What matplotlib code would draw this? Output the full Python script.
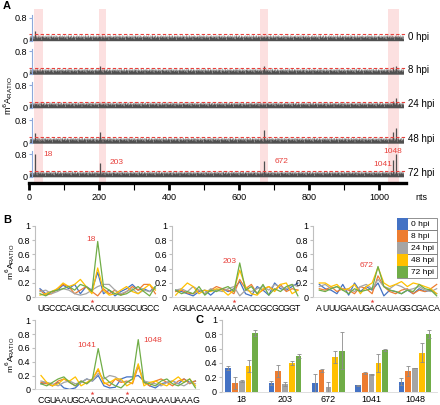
import numpy as np
import matplotlib.pyplot as plt
from matplotlib.patches import Rectangle

plt.rcParams['font.family'] = ['Liberation Sans', 'DejaVu Sans']

# -----------------------------
# data
# -----------------------------
hpi_labels = ['0 hpi', '8 hpi', '24 hpi', '48 hpi', '72 hpi']
colors = ['#4472C4', '#ED7D31', '#A5A5A5', '#FFC000', '#70AD47']

sites = [18, 203, 672, 1041, 1048]
site_labels = ['18', '203', '672', '1041', '1048']

# panel C: m6A ratio at each site (mean, sd)
c_0hpi = [0.33, 0.12, 0.12, 0.09, 0.14]
c_8hpi = [0.12, 0.29, 0.30, 0.26, 0.29]
c_24hpi = [0.15, 0.11, 0.07, 0.24, 0.33]
c_48hpi = [0.36, 0.40, 0.48, 0.40, 0.54]
c_72hpi = [0.82, 0.50, 0.57, 0.58, 0.80]
err_0hpi = [0.03, 0.03, 0.12, 0.01, 0.05]
err_8hpi = [0.08, 0.08, 0.02, 0.01, 0.07]
err_24hpi = [0.01, 0.03, 0.07, 0.01, 0.005]
err_48hpi = [0.08, 0.03, 0.08, 0.13, 0.13]
err_72hpi = [0.04, 0.03, 0.26, 0.01, 0.06]

# panel A: genome length and background ratio (repeated along the genome)
genome_len = 1070
noise_base = [0.14, 0.18, 0.10, 0.16, 0.21, 0.12, 0.17, 0.15, 0.20, 0.09, 0.16, 0.19,
              0.07, 0.15, 0.18, 0.22, 0.13, 0.17, 0.12, 0.16, 0.19, 0.14, 0.10, 0.18,
              0.21, 0.13, 0.16, 0.11, 0.17, 0.20, 0.15, 0.12, 0.18, 0.16, 0.05, 0.15,
              0.19, 0.17, 0.13, 0.21, 0.16, 0.11, 0.18, 0.14, 0.17, 0.12, 0.20, 0.16]
row_shift = [0, 7, 19, 31, 11]
threshold = 0.22
band_start = [13, 200, 661, 1027]
band_end = [39, 221, 683, 1056]

# panel B: windows around the sites
seq_18 = 'UGCCCAGUCACCUUGGCUGCC'
seq_203 = 'AGUACAAAAAACACCGCGCGGT'
seq_672 = 'AUUUGAAUGACAUAGGCGACA'
seq_1041 = 'CGUAAUGCAACUUACAACAUAAAUAAAG'

w18_0 = [0.12, 0.05, 0.08, 0.10, 0.17, 0.12, 0.18, 0.05, 0.15, 0.10, 0.35, 0.05, 0.10, 0.02, 0.08, 0.12, 0.18, 0.10, 0.12, 0.08, 0.15]
w18_8 = [0.10, 0.03, 0.05, 0.12, 0.18, 0.15, 0.05, 0.10, 0.15, 0.08, 0.02, 0.12, 0.05, 0.10, 0.03, 0.08, 0.15, 0.10, 0.18, 0.18, 0.05]
w18_24 = [0.08, 0.10, 0.05, 0.08, 0.12, 0.10, 0.05, 0.03, 0.05, 0.10, 0.15, 0.18, 0.18, 0.10, 0.05, 0.08, 0.12, 0.05, 0.10, 0.08, 0.12]
w18_48 = [0.03, 0.05, 0.08, 0.12, 0.20, 0.15, 0.18, 0.25, 0.15, 0.05, 0.41, 0.10, 0.03, 0.05, 0.10, 0.15, 0.08, 0.05, 0.12, 0.18, 0.10]
w18_72 = [0.05, 0.02, 0.08, 0.10, 0.12, 0.15, 0.10, 0.18, 0.15, 0.08, 0.78, 0.15, 0.10, 0.05, 0.03, 0.05, 0.10, 0.15, 0.08, 0.02, 0.15]

w203_0 = [0.10, 0.08, 0.05, 0.02, 0.08, 0.10, 0.03, 0.10, 0.12, 0.08, 0.12, 0.22, 0.05, 0.02, 0.15, 0.10, 0.03, 0.20, 0.12, 0.10, 0.15, 0.20]
w203_8 = [0.08, 0.10, 0.06, 0.05, 0.10, 0.05, 0.10, 0.15, 0.12, 0.10, 0.05, 0.25, 0.12, 0.18, 0.05, 0.10, 0.15, 0.10, 0.18, 0.08, 0.12, 0.10]
w203_24 = [0.10, 0.12, 0.08, 0.15, 0.10, 0.05, 0.12, 0.10, 0.08, 0.12, 0.15, 0.02, 0.10, 0.08, 0.12, 0.15, 0.10, 0.18, 0.15, 0.12, 0.18, 0.15]
w203_48 = [0.03, 0.12, 0.20, 0.15, 0.05, 0.10, 0.08, 0.12, 0.10, 0.03, 0.10, 0.38, 0.15, 0.05, 0.03, 0.12, 0.15, 0.08, 0.18, 0.20, 0.05, 0.10]
w203_72 = [0.10, 0.05, 0.08, 0.05, 0.15, 0.03, 0.10, 0.08, 0.12, 0.15, 0.08, 0.48, 0.10, 0.15, 0.05, 0.18, 0.03, 0.12, 0.08, 0.15, 0.18, 0.02]

w672_0 = [0.18, 0.12, 0.10, 0.05, 0.18, 0.03, 0.20, 0.08, 0.15, 0.10, 0.20, 0.02, 0.10, 0.08, 0.05, 0.10, 0.05, 0.12, 0.08, 0.10, 0.05]
w672_8 = [0.12, 0.10, 0.15, 0.08, 0.12, 0.10, 0.05, 0.15, 0.12, 0.05, 0.30, 0.15, 0.08, 0.05, 0.10, 0.12, 0.05, 0.10, 0.08, 0.12, 0.18]
w672_24 = [0.15, 0.18, 0.12, 0.15, 0.10, 0.12, 0.08, 0.15, 0.18, 0.12, 0.25, 0.15, 0.12, 0.18, 0.15, 0.10, 0.12, 0.15, 0.10, 0.08, 0.12]
w672_48 = [0.20, 0.20, 0.15, 0.18, 0.10, 0.12, 0.18, 0.05, 0.15, 0.20, 0.42, 0.20, 0.15, 0.18, 0.22, 0.15, 0.20, 0.18, 0.15, 0.12, 0.05]
w672_72 = [0.10, 0.08, 0.12, 0.15, 0.10, 0.05, 0.12, 0.08, 0.10, 0.12, 0.43, 0.15, 0.10, 0.08, 0.05, 0.10, 0.08, 0.18, 0.12, 0.10, 0.02]

w1041_0 = [0.08, 0.10, 0.05, 0.10, 0.02, 0.00, 0.02, 0.10, 0.15, 0.12, 0.20, 0.05, 0.02, 0.03, 0.15, 0.18, 0.18, 0.20, 0.12, 0.05, 0.02, 0.08, 0.10, 0.12, 0.08, 0.15, 0.10, 0.12]
w1041_8 = [0.10, 0.08, 0.05, 0.12, 0.15, 0.10, 0.05, 0.12, 0.08, 0.15, 0.28, 0.10, 0.05, 0.15, 0.10, 0.12, 0.08, 0.33, 0.10, 0.05, 0.12, 0.15, 0.10, 0.05, 0.12, 0.15, 0.08, 0.12]
w1041_24 = [0.12, 0.10, 0.08, 0.05, 0.10, 0.12, 0.08, 0.10, 0.15, 0.12, 0.23, 0.15, 0.20, 0.18, 0.12, 0.10, 0.15, 0.35, 0.12, 0.10, 0.08, 0.05, 0.10, 0.12, 0.08, 0.05, 0.10, 0.08]
w1041_48 = [0.20, 0.10, 0.05, 0.08, 0.15, 0.12, 0.18, 0.05, 0.10, 0.15, 0.30, 0.08, 0.10, 0.15, 0.15, 0.05, 0.10, 0.37, 0.05, 0.10, 0.12, 0.08, 0.05, 0.12, 0.18, 0.10, 0.15, 0.05]
w1041_72 = [0.08, 0.05, 0.10, 0.15, 0.18, 0.10, 0.05, 0.12, 0.08, 0.15, 0.59, 0.18, 0.10, 0.05, 0.02, 0.10, 0.15, 0.72, 0.10, 0.08, 0.05, 0.12, 0.15, 0.08, 0.05, 0.10, 0.15, 0.02]

# -----------------------------
# figure helpers (pixel boxes)
# -----------------------------
W, H = 440, 405
fig = plt.figure(figsize=(W / 100, H / 100), dpi=100)


def px_axes(l, t, r, b, **kw):
    return fig.add_axes([l / W, 1 - b / H, (r - l) / W, (b - t) / H], **kw)


ylab = r'm$^6$A$_\mathregular{RATIO}$'
FS = 6.5

# -----------------------------
# Panel A
# -----------------------------
xl, xr = 29, 406
x_max = (xr - xl) / 0.35
bg = px_axes(xl, 9.3, xr, 183)
for s, e in zip(band_start, band_end):
    bg.axvspan(s, e, color='#FCE0E0', lw=0)
bg.set_xlim(0, x_max)
bg.set_ylim(0, 1)
bg.set_yticks([])
for sp in ['top', 'right', 'left']:
    bg.spines[sp].set_visible(False)
bg.spines['bottom'].set_linewidth(2.4)
bg.set_xticks(np.arange(0, 1001, 200))
bg.set_xticks(np.arange(100, 1001, 200), minor=True)
bg.tick_params(axis='x', which='major', width=2, length=5, labelsize=FS, pad=2)
bg.tick_params(axis='x', which='minor', width=0.8, length=5)
fig.text(415 / W, 1 - 197 / H, 'nts', fontsize=FS, va='center')

pos = np.arange(1, genome_len + 1)
row_zero = [40.7, 74.2, 107.8, 143.2, 176.8]
row_vals = [c_0hpi, c_8hpi, c_24hpi, c_48hpi, c_72hpi]
unit = 28.4
for i, z in enumerate(row_zero):
    ax = px_axes(xl, z - 0.9 * unit, xr, z)
    ax.patch.set_alpha(0)
    vals = np.roll(np.resize(noise_base, genome_len), row_shift[i])
    ax.fill_between(pos, vals, step='mid', color='#505050', lw=0, antialiased=False)
    ax.vlines(sites, 0, row_vals[i], color='#505050', lw=0.9)
    ax.axhline(threshold, color='#E8413C', lw=0.8, ls=(0, (3, 2)))
    ax.set_xlim(0, x_max)
    ax.set_ylim(0, 0.9)
    ax.set_xticks([])
    ax.set_yticks([0, 0.8], ['0', '0.8'])
    ax.tick_params(axis='y', labelsize=FS, length=2, pad=1.5, color='#8EA9DB')
    for sp in ['top', 'right', 'bottom']:
        ax.spines[sp].set_visible(False)
    ax.spines['left'].set_position(('data', 9))
    ax.spines['left'].set_color('#8EA9DB')
    ax.spines['left'].set_linewidth(0.8)
    fig.text(408 / W, 1 - (z - 4) / H, hpi_labels[i], fontsize=7, va='center')
    if i == 4:
        tag_px = [(43, 155), (110, 162), (275, 161.7), (373, 164), (383, 151)]
        for lab, (tx, ty) in zip(site_labels, tag_px):
            fig.text(tx / W, 1 - ty / H, lab, color='#E8413C', fontsize=6, va='center')

fig.text(8 / W, 1 - 96 / H, ylab, rotation=90, fontsize=FS, ha='center', va='center')
fig.text(3 / W, 1 - 6 / H, 'A', fontsize=8, fontweight='bold', va='center')

# -----------------------------
# Panel B
# -----------------------------


def window(box, x0, step, seq, series, stars, tags):
    l, t, r, b = box
    ax = px_axes(l, t, r, b)
    for v, c in zip(series, colors):
        ax.plot(range(len(v)), v, color=c, lw=0.9)
    ax.set_xlim((l - x0) / step, (r - x0) / step)
    ax.set_ylim(0, 1)
    ax.set_yticks([0, 0.2, 0.4, 0.6, 0.8, 1], ['0', '0.2', '0.4', '0.6', '0.8', '1'])
    ax.set_xticks(range(len(seq)), list(seq))
    ax.tick_params(axis='x', length=0, labelsize=6.3, pad=4.5)
    ax.tick_params(axis='y', length=2, labelsize=FS, pad=1.5, color='#BFBFBF')
    for sp in ['top', 'right']:
        ax.spines[sp].set_visible(False)
    ax.spines['left'].set_color('#BFBFBF')
    ax.spines['bottom'].set_color('#D9D9D9')
    ax.spines['left'].set_linewidth(0.8)
    ax.spines['bottom'].set_linewidth(0.6)
    for s in stars:
        ax.plot(s, -0.055, marker='*', ms=3, color='#E8413C', clip_on=False, mew=0)
    for lab, tx, ty in tags:
        ax.text(tx, ty, lab, color='#E8413C', fontsize=6, ha='center', va='center')
    return ax


window((35, 225.7, 157, 297.3), 40, 5.77, seq_18,
       [w18_0, w18_8, w18_24, w18_48, w18_72], [9], [('18', 8.8, 0.81)])
window((171.7, 225.7, 299, 297.3), 175.7, 5.82, seq_203,
       [w203_0, w203_8, w203_24, w203_48, w203_72], [10], [('203', 9.3, 0.50)])
window((313, 225.7, 438, 297.3), 319.3, 5.87, seq_672,
       [w672_0, w672_8, w672_24, w672_48, w672_72], [9], [('672', 8.0, 0.44)])
window((35, 320.3, 199, 389.3), 41, 5.72, seq_1041,
       [w1041_0, w1041_8, w1041_24, w1041_48, w1041_72], [9, 15],
       [('1041', 7.95, 0.63), ('1048', 19.6, 0.71)])

fig.text(10 / W, 1 - 262 / H, ylab, rotation=90, fontsize=6, ha='center', va='center')
fig.text(10 / W, 1 - 355 / H, ylab, rotation=90, fontsize=6, ha='center', va='center')
fig.text(3 / W, 1 - 220 / H, 'B', fontsize=8, fontweight='bold', va='center')

# legend box
lg = px_axes(397, 218, 437, 278)
lg.set_xlim(0, 40)
lg.set_ylim(60, 0)
lg.axis('off')
for i, (lab, c) in enumerate(zip(hpi_labels, colors)):
    lg.add_patch(Rectangle((0, i * 12), 40, 12, fill=False, ec='#7F7F7F', lw=0.6, clip_on=False))
    lg.add_patch(Rectangle((0.3, i * 12 + 0.3), 11, 11.4, color=c, lw=0))
    lg.text(14, i * 12 + 6.3, lab, fontsize=6, va='center')

# -----------------------------
# Panel C
# -----------------------------
axc = px_axes(221.7, 319.7, 437, 391.7)
gx = np.arange(len(sites))
means = [c_0hpi, c_8hpi, c_24hpi, c_48hpi, c_72hpi]
errs = [err_0hpi, err_8hpi, err_24hpi, err_48hpi, err_72hpi]
pitch = 0.157
for k, (m, e, c) in enumerate(zip(means, errs, colors)):
    xs = gx + (k - 2) * pitch
    axc.bar(xs, m, width=0.13, color=c, lw=0)
    axc.errorbar(xs, m, yerr=e, fmt='none', ecolor='#8C8C8C', elinewidth=0.6,
                 capsize=1.2, capthick=0.6)
axc.set_xlim(-20 / 43.3, 4 + 22 / 43.3)
axc.set_ylim(0, 1)
axc.set_yticks([0, 0.2, 0.4, 0.6, 0.8, 1], ['0', '0.2', '0.4', '0.6', '0.8', '1'])
axc.set_xticks(gx, site_labels)
axc.tick_params(axis='x', length=0, labelsize=FS, pad=2.5)
axc.tick_params(axis='y', length=2, labelsize=FS, pad=1.5, color='#BFBFBF')
for sp in ['top', 'right']:
    axc.spines[sp].set_visible(False)
axc.spines['left'].set_color('#BFBFBF')
axc.spines['bottom'].set_color('#D9D9D9')
axc.spines['left'].set_linewidth(0.8)
axc.spines['bottom'].set_linewidth(0.6)
fig.text(195 / W, 1 - 320 / H, 'C', fontsize=8, fontweight='bold', va='center')

fig.savefig('out.png', dpi=100)
